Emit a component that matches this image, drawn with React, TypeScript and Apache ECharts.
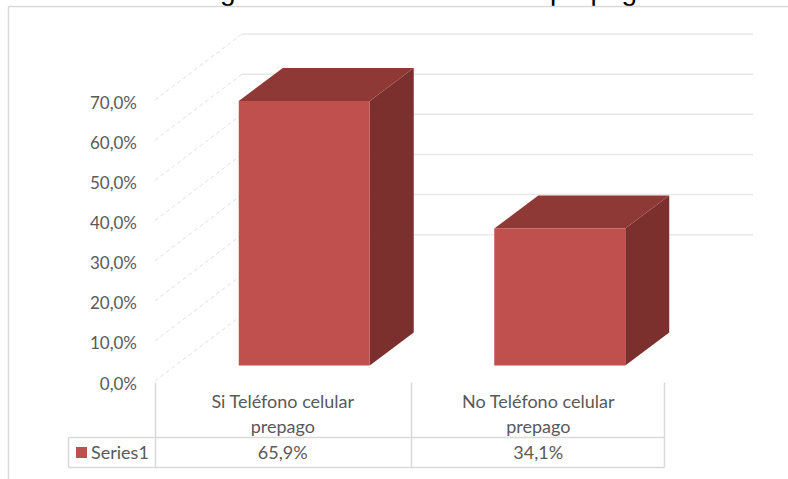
import React, { useEffect, useRef } from "react";
import * as echarts from "echarts";

const categories = ["Si Teléfono celular\nprepago", "No Teléfono celular\nprepago"];
const values = [65.9, 34.1];
const tableValues = ["65,9%", "34,1%"];
const ticks = [0, 10, 20, 30, 40, 50, 60, 70];
const backWallTicks = [20, 30, 40, 50, 60, 70];
const seriesName = "Series1";
// The reference's title is cropped at the top edge: only these descenders remain.
const titleFragments = [
  { text: "g", x: 220 },
  { text: "prepago", x: 550 },
];

const GRID = { left: 155, right: 666, top: 100, bottom: 381 };
const WALL = { dx: 87, dy: -66, right: 753 };
const BAR = { width: 131, dx: 21.5, dy: -15.5, depthX: 44, depthY: -33 };
const TEXT = "#595959";
const FONT = "Lato";

function renderWall(_: any, api: any) {
  const tick = api.value(1);
  const [, y] = api.coord([0, tick]);
  const bx = GRID.left + WALL.dx;
  const by = y + WALL.dy;
  const children: any[] = [
    { type: "line", shape: { x1: GRID.left, y1: y, x2: bx, y2: by }, style: { stroke: "#e0e0e0", lineWidth: 1, lineDash: [4, 3] } },
  ];
  if (backWallTicks.includes(tick)) {
    children.push({ type: "line", shape: { x1: bx, y1: by, x2: WALL.right, y2: by }, style: { stroke: "#e8e8e8", lineWidth: 1.5 } });
  }
  return { type: "group", silent: true, children };
}

function renderBar(_: any, api: any) {
  const idx = api.value(0);
  const [cx, top] = api.coord([idx, api.value(1)]);
  const [, base] = api.coord([idx, 0]);
  const x0 = cx + BAR.dx - BAR.width / 2;
  const x1 = x0 + BAR.width;
  const y0 = top + BAR.dy;
  const y1 = base + BAR.dy;
  const { depthX: dx, depthY: dy } = BAR;
  return {
    type: "group",
    children: [
      { type: "polygon", shape: { points: [[x1, y0], [x1 + dx, y0 + dy], [x1 + dx, y1 + dy], [x1, y1]] }, style: { fill: "#7B302E" } },
      { type: "polygon", shape: { points: [[x0, y0], [x0 + dx, y0 + dy], [x1 + dx, y0 + dy], [x1, y0]] }, style: { fill: "#8F3937" } },
      { type: "rect", shape: { x: x0, y: y0, width: BAR.width, height: y1 - y0 }, style: { fill: "#C0504D" } },
    ],
  };
}

function renderTableValue(_: any, api: any) {
  const idx = api.value(0);
  const [cx] = api.coord([idx, 0]);
  return {
    type: "text",
    x: cx,
    y: 452,
    silent: true,
    style: { text: tableValues[idx], fill: TEXT, font: `18px ${FONT}`, align: "center", verticalAlign: "middle" },
  };
}

const tableLines = [
  [155, 382, 155, 467],
  [411, 382, 411, 467],
  [664, 382, 664, 467],
  [68, 437, 664, 437],
  [68, 467, 664, 467],
  [68, 437, 68, 467],
];

export default function App() {
  const ref = useRef<HTMLDivElement>(null);
  useEffect(() => {
    document.body.style.margin = "0";
    const chart = echarts.init(ref.current!, undefined, { renderer: "svg" });
    chart.setOption({
      animation: false,
      backgroundColor: "#fff",
      grid: {
        left: GRID.left,
        top: GRID.top,
        width: GRID.right - GRID.left,
        height: GRID.bottom - GRID.top,
      },
      xAxis: {
        type: "category",
        data: categories,
        axisLine: { show: false },
        axisTick: { show: false },
        axisLabel: { color: TEXT, fontFamily: FONT, fontSize: 18, lineHeight: 25, margin: 7, interval: 0 },
      },
      yAxis: {
        type: "value",
        min: 0,
        max: 70,
        interval: 10,
        splitLine: { show: false },
        axisLine: { show: false },
        axisTick: { show: false },
        axisLabel: {
          color: TEXT,
          fontFamily: FONT,
          fontSize: 17,
          margin: 18,
          verticalAlign: "top",
          lineHeight: 4,
          formatter: (v: number) => v.toFixed(1).replace(".", ",") + "%",
        },
      },
      graphic: [
        ...titleFragments.map((f) => ({
          type: "text",
          silent: true,
          x: f.x,
          y: 4,
          style: { text: f.text, fill: "#000", font: "28px 'Liberation Sans'", verticalAlign: "bottom" },
        })),
        { type: "line", silent: true, shape: { x1: 8.5, y1: 6.5, x2: 788, y2: 6.5 }, style: { stroke: "#d9d9d9", lineWidth: 1.5 } },
        { type: "line", silent: true, shape: { x1: 8.5, y1: 6.5, x2: 8.5, y2: 479 }, style: { stroke: "#d9d9d9", lineWidth: 1.5 } },
        ...tableLines.map(([x1, y1, x2, y2]) => ({
          type: "line",
          silent: true,
          shape: { x1: x1 + 0.5, y1: y1 + 0.5, x2: x2 + 0.5, y2: y2 + 0.5 },
          style: { stroke: "#d9d9d9", lineWidth: 1.5 },
        })),
        { type: "rect", silent: true, shape: { x: 76, y: 447, width: 11, height: 11 }, style: { fill: "#C0504D" } },
        { type: "text", silent: true, x: 91, y: 452, style: { text: seriesName, fill: TEXT, font: `18px ${FONT}`, verticalAlign: "middle" } },
      ],
      series: [
        { type: "custom", coordinateSystem: "cartesian2d", renderItem: renderWall, data: ticks.map((t) => [0, t]), encode: { x: 0, y: 1 }, silent: true, z: 1 },
        { type: "custom", coordinateSystem: "cartesian2d", name: seriesName, renderItem: renderBar, data: values.map((v, i) => [i, v]), encode: { x: 0, y: 1 }, z: 2 },
        { type: "custom", coordinateSystem: "cartesian2d", renderItem: renderTableValue, data: values.map((v, i) => [i, v]), encode: { x: 0, y: 1 }, silent: true, z: 3 },
      ],
    });
    return () => chart.dispose();
  }, []);
  return <div ref={ref} style={{ width: 788, height: 479 }} />;
}
